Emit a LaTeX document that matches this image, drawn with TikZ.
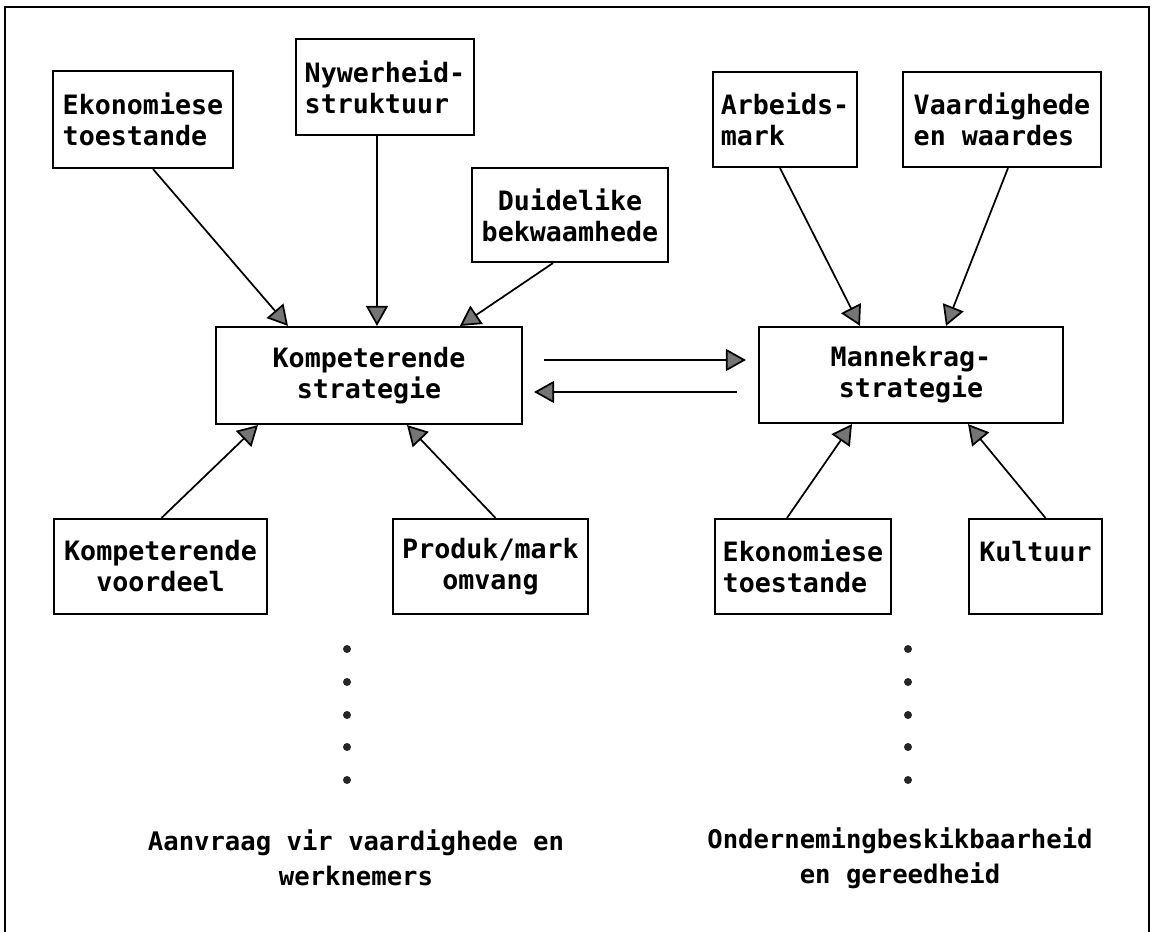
\documentclass[tikz,border=0pt]{standalone}
\usepackage{fontspec}
\usetikzlibrary{arrows.meta}
\newfontfamily\diagfont{DejaVu Sans Mono}
\newcommand{\boxfont}{\diagfont\bfseries\fontsize{20pt}{23.25pt}\selectfont}
\newcommand{\lblfont}{\diagfont\bfseries\fontsize{19.2pt}{26.25pt}\selectfont}

\begin{document}
\begin{tikzpicture}[x=0.75pt,y=0.75pt,yscale=-1,xscale=1,
  box/.style={draw, line width=1.6pt, inner sep=0pt, minimum height=71.25pt, font=\boxfont},
  arw/.style={line width=1.3pt, -{Triangle[length=15pt,width=16.5pt,fill=gray!45!black!70]}},
  lbl/.style={font=\lblfont, align=center, inner sep=0.75pt}]
\clip (0,0) rectangle (1154,932);

%Shape: Rectangle (outer frame)
\draw [line width=1.6pt] (5,7) rectangle (1149,960);

%Shape: Rectangle
\node [box, align=left, minimum width=135pt, minimum height=72.75pt] (ekoL) at (143,119.5) {Ekonomiese\\toestande};
%Shape: Rectangle
\node [box, align=left, minimum width=133.5pt, minimum height=72pt] (nyw) at (385,87) {Nywerheid-\\struktuur};
%Shape: Rectangle
\node [box, align=center, minimum width=147pt, minimum height=70.5pt] (duid) at (570,215) {Duidelike\\bekwaamhede};
%Shape: Rectangle
\node [box, align=center, minimum width=229.5pt, minimum height=72.75pt] (komp) at (369,375.5) {Kompeterende\\strategie};
%Shape: Rectangle
\node [box, align=center, minimum width=228pt, minimum height=72pt] (mann) at (911,375) {Mannekrag-\\strategie};
%Shape: Rectangle
\node [box, align=left, minimum width=108pt] (arb) at (785,119.5) {Arbeids-\\mark};
%Shape: Rectangle
\node [box, align=left, minimum width=148.5pt] (vaard) at (1002,119.5) {Vaardighede\\en waardes};
%Shape: Rectangle
\node [box, align=center, minimum width=159.75pt] (kvoor) at (160.5,566.5) {Kompeterende\\voordeel};
%Shape: Rectangle
\node [box, align=center, minimum width=146.25pt] (prod) at (490.5,566.5) {Produk/mark\\omvang};
%Shape: Rectangle
\node [box, align=left, minimum width=132pt] (ekoR) at (803,566.5) {Ekonomiese\\toestande};
%Shape: Rectangle
\node [box, align=left, minimum width=99.75pt] (kult) at (1035.5,566.5) {Kultuur\\\phantom{x}};

%Straight Lines
\draw [arw] ([shift={(10,0)}]ekoL.south) -- ([shift={(-81,0)}]komp.north);
\draw [arw] ([shift={(-8,0)}]nyw.south) -- ([shift={(8,0)}]komp.north);
\draw [arw] ([shift={(-17,0)}]duid.south) -- ([shift={(91,0)}]komp.north);
\draw [arw] ([shift={(1,0)}]kvoor.north) -- ([shift={(-111,0)}]komp.south);
\draw [arw] ([shift={(5,0)}]prod.north) -- ([shift={(38,0)}]komp.south);
%Straight Lines
\draw [arw] ([shift={(21,-15.5)}]komp.east) -- ([shift={(-12,-15)}]mann.west);
\draw [arw] ([shift={(-21,17)}]mann.west) -- ([shift={(11,16.5)}]komp.east);
%Straight Lines
\draw [arw] ([shift={(-5,0)}]arb.south) -- ([shift={(-51,0)}]mann.north);
\draw [arw] ([shift={(6,0)}]vaard.south) -- ([shift={(35,0)}]mann.north);
\draw [arw] ([shift={(-16,0)}]ekoR.north) -- ([shift={(-59,0)}]mann.south);
\draw [arw] ([shift={(10,0)}]kult.north) -- ([shift={(57,0)}]mann.south);

%Shape: Circle (dots)
\foreach \yy in {649,682,715,747,780} {
  \fill [black!85] (347,\yy) circle (4);
  \fill [black!85] (908,\yy) circle (4);
}

% Text Node
\node [lbl] (lblL) at (356,858) {Aanvraag vir vaardighede en\\werknemers};
% Text Node
\node [lbl] (lblR) at (900,858) {Ondernemingbeskikbaarheid\\en gereedheid};
\end{tikzpicture}
\end{document}
